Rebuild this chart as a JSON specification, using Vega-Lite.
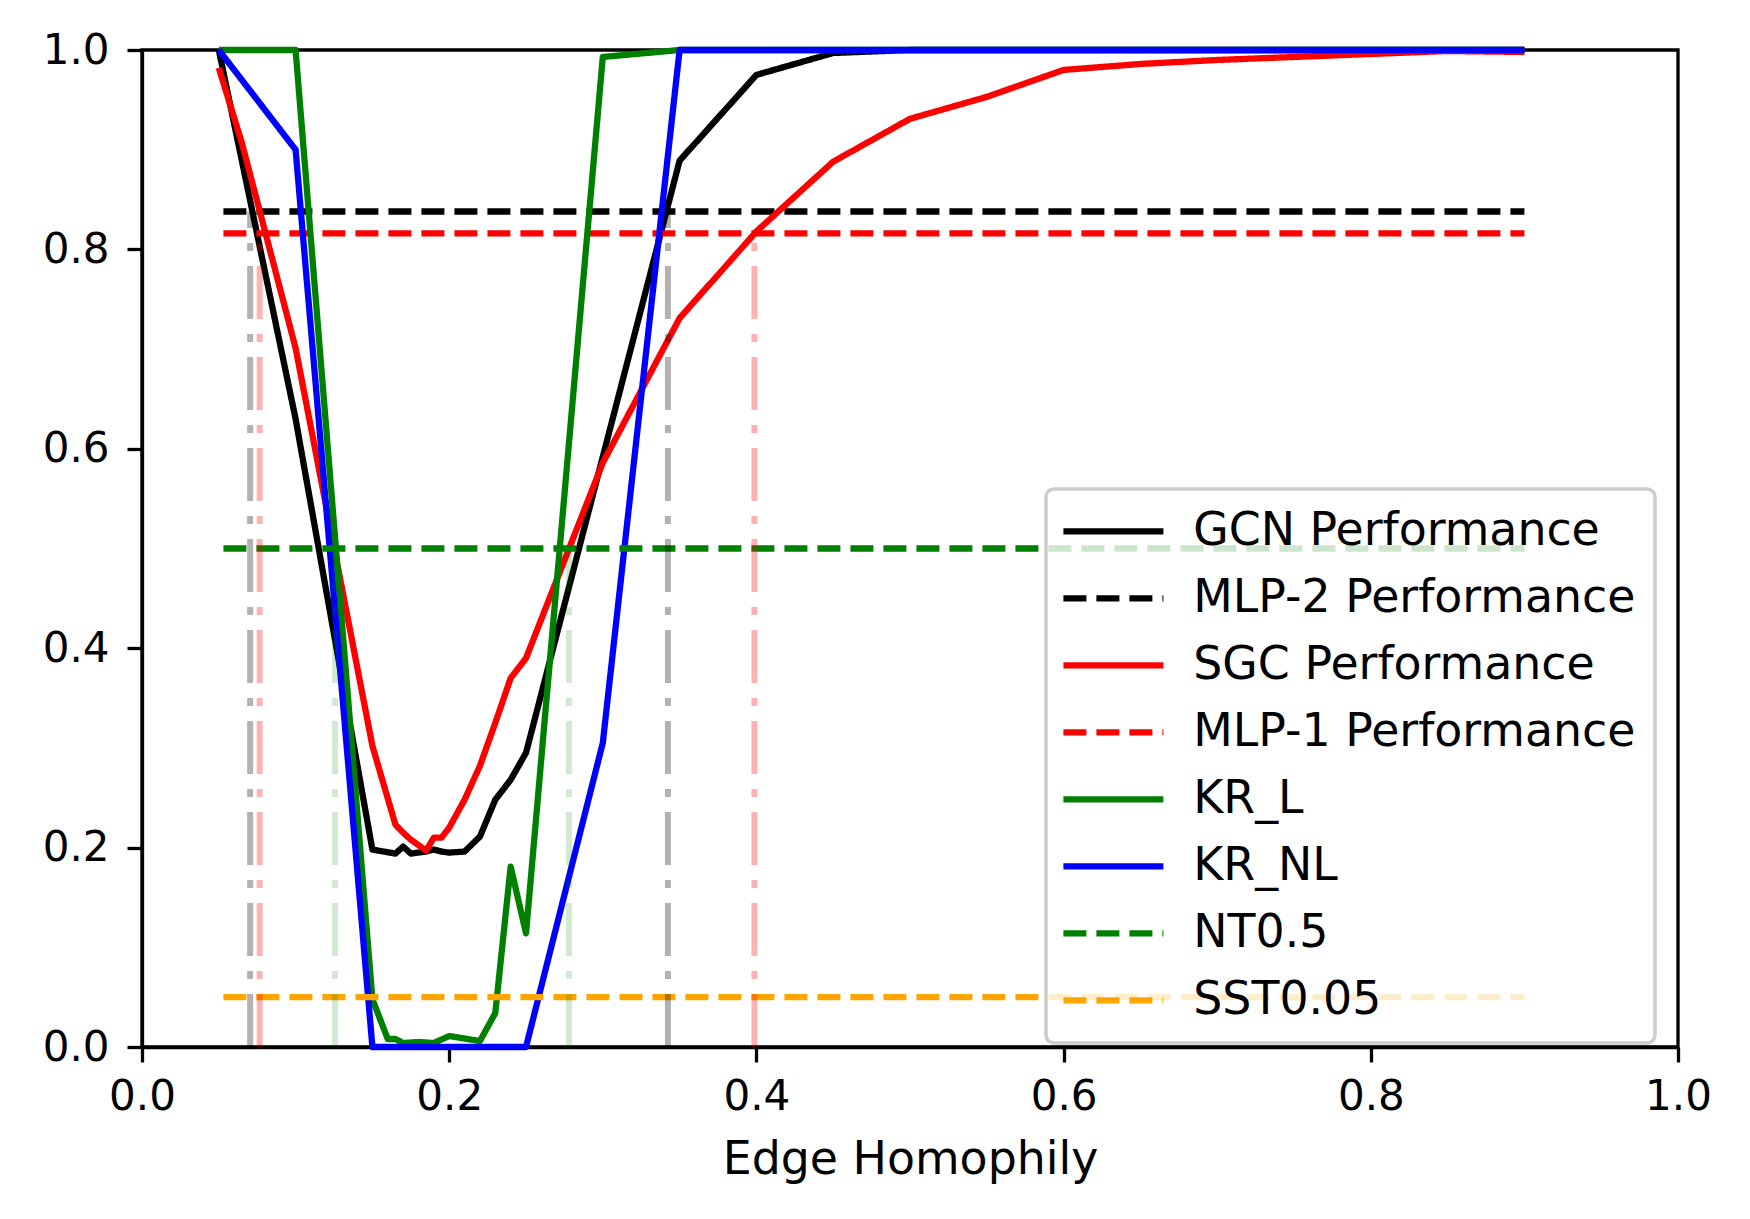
{
  "$schema": "https://vega.github.io/schema/vega-lite/v6.json",
  "width": 1536,
  "height": 997,
  "autosize": {"type": "none"},
  "padding": {"left": 142, "top": 50, "right": 72, "bottom": 172},
  "background": "white",
  "config": {
    "font": "DejaVu Sans",
    "view": {"stroke": "black", "strokeWidth": 3.3},
    "axis": {
      "grid": false,
      "domainColor": "black",
      "domainWidth": 3.3,
      "tickColor": "black",
      "tickWidth": 3.3,
      "tickSize": 15,
      "labelFont": "DejaVu Sans",
      "labelFontSize": 42,
      "labelColor": "black",
      "labelFlush": false,
      "titleFont": "DejaVu Sans",
      "titleFontSize": 45.8,
      "titleFontWeight": "normal",
      "titleColor": "black"
    },
    "legend": {"strokeWidth": 3.5}
  },
  "datasets": {
    "curves": [
      {"series": "GCN Performance", "homophily": 0.05, "score": 1.0},
      {"series": "GCN Performance", "homophily": 0.1, "score": 0.63},
      {"series": "GCN Performance", "homophily": 0.15, "score": 0.198},
      {"series": "GCN Performance", "homophily": 0.165, "score": 0.194},
      {"series": "GCN Performance", "homophily": 0.17, "score": 0.201},
      {"series": "GCN Performance", "homophily": 0.175, "score": 0.194},
      {"series": "GCN Performance", "homophily": 0.185, "score": 0.196},
      {"series": "GCN Performance", "homophily": 0.19, "score": 0.198},
      {"series": "GCN Performance", "homophily": 0.195, "score": 0.196},
      {"series": "GCN Performance", "homophily": 0.2, "score": 0.195},
      {"series": "GCN Performance", "homophily": 0.21, "score": 0.196},
      {"series": "GCN Performance", "homophily": 0.22, "score": 0.211},
      {"series": "GCN Performance", "homophily": 0.23, "score": 0.248},
      {"series": "GCN Performance", "homophily": 0.24, "score": 0.268},
      {"series": "GCN Performance", "homophily": 0.25, "score": 0.295},
      {"series": "GCN Performance", "homophily": 0.3, "score": 0.592},
      {"series": "GCN Performance", "homophily": 0.35, "score": 0.889},
      {"series": "GCN Performance", "homophily": 0.4, "score": 0.975},
      {"series": "GCN Performance", "homophily": 0.45, "score": 0.997},
      {"series": "GCN Performance", "homophily": 0.5, "score": 1.0},
      {"series": "GCN Performance", "homophily": 0.55, "score": 1.0},
      {"series": "GCN Performance", "homophily": 0.6, "score": 1.0},
      {"series": "GCN Performance", "homophily": 0.65, "score": 1.0},
      {"series": "GCN Performance", "homophily": 0.7, "score": 1.0},
      {"series": "GCN Performance", "homophily": 0.75, "score": 1.0},
      {"series": "GCN Performance", "homophily": 0.8, "score": 1.0},
      {"series": "GCN Performance", "homophily": 0.85, "score": 1.0},
      {"series": "GCN Performance", "homophily": 0.9, "score": 1.0},

      {"series": "MLP-2 Performance", "homophily": 0.053, "score": 0.838},
      {"series": "MLP-2 Performance", "homophily": 0.9, "score": 0.838},

      {"series": "SGC Performance", "homophily": 0.05, "score": 0.982},
      {"series": "SGC Performance", "homophily": 0.065, "score": 0.907},
      {"series": "SGC Performance", "homophily": 0.1, "score": 0.701},
      {"series": "SGC Performance", "homophily": 0.15, "score": 0.302},
      {"series": "SGC Performance", "homophily": 0.165, "score": 0.223},
      {"series": "SGC Performance", "homophily": 0.17, "score": 0.215},
      {"series": "SGC Performance", "homophily": 0.175, "score": 0.208},
      {"series": "SGC Performance", "homophily": 0.185, "score": 0.197},
      {"series": "SGC Performance", "homophily": 0.19, "score": 0.21},
      {"series": "SGC Performance", "homophily": 0.195, "score": 0.21},
      {"series": "SGC Performance", "homophily": 0.2, "score": 0.22},
      {"series": "SGC Performance", "homophily": 0.21, "score": 0.248},
      {"series": "SGC Performance", "homophily": 0.22, "score": 0.282},
      {"series": "SGC Performance", "homophily": 0.23, "score": 0.325},
      {"series": "SGC Performance", "homophily": 0.24, "score": 0.37},
      {"series": "SGC Performance", "homophily": 0.25, "score": 0.39},
      {"series": "SGC Performance", "homophily": 0.3, "score": 0.586},
      {"series": "SGC Performance", "homophily": 0.35, "score": 0.731},
      {"series": "SGC Performance", "homophily": 0.4, "score": 0.818},
      {"series": "SGC Performance", "homophily": 0.45, "score": 0.888},
      {"series": "SGC Performance", "homophily": 0.5, "score": 0.931},
      {"series": "SGC Performance", "homophily": 0.55, "score": 0.953},
      {"series": "SGC Performance", "homophily": 0.6, "score": 0.98},
      {"series": "SGC Performance", "homophily": 0.65, "score": 0.986},
      {"series": "SGC Performance", "homophily": 0.7, "score": 0.99},
      {"series": "SGC Performance", "homophily": 0.75, "score": 0.993},
      {"series": "SGC Performance", "homophily": 0.8, "score": 0.996},
      {"series": "SGC Performance", "homophily": 0.85, "score": 0.999},
      {"series": "SGC Performance", "homophily": 0.9, "score": 0.998},

      {"series": "MLP-1 Performance", "homophily": 0.053, "score": 0.816},
      {"series": "MLP-1 Performance", "homophily": 0.9, "score": 0.816},

      {"series": "KR_L", "homophily": 0.05, "score": 1.0},
      {"series": "KR_L", "homophily": 0.1, "score": 1.0},
      {"series": "KR_L", "homophily": 0.15, "score": 0.048},
      {"series": "KR_L", "homophily": 0.16, "score": 0.008},
      {"series": "KR_L", "homophily": 0.165, "score": 0.008},
      {"series": "KR_L", "homophily": 0.17, "score": 0.004},
      {"series": "KR_L", "homophily": 0.18, "score": 0.005},
      {"series": "KR_L", "homophily": 0.19, "score": 0.004},
      {"series": "KR_L", "homophily": 0.2, "score": 0.011},
      {"series": "KR_L", "homophily": 0.22, "score": 0.006},
      {"series": "KR_L", "homophily": 0.23, "score": 0.034},
      {"series": "KR_L", "homophily": 0.24, "score": 0.181},
      {"series": "KR_L", "homophily": 0.25, "score": 0.114},
      {"series": "KR_L", "homophily": 0.3, "score": 0.993},
      {"series": "KR_L", "homophily": 0.35, "score": 1.0},
      {"series": "KR_L", "homophily": 0.4, "score": 1.0},
      {"series": "KR_L", "homophily": 0.5, "score": 1.0},
      {"series": "KR_L", "homophily": 0.6, "score": 1.0},
      {"series": "KR_L", "homophily": 0.7, "score": 1.0},
      {"series": "KR_L", "homophily": 0.8, "score": 1.0},
      {"series": "KR_L", "homophily": 0.9, "score": 1.0},

      {"series": "KR_NL", "homophily": 0.05, "score": 1.0},
      {"series": "KR_NL", "homophily": 0.1, "score": 0.9},
      {"series": "KR_NL", "homophily": 0.15, "score": 0.0},
      {"series": "KR_NL", "homophily": 0.2, "score": 0.0},
      {"series": "KR_NL", "homophily": 0.25, "score": 0.0},
      {"series": "KR_NL", "homophily": 0.3, "score": 0.305},
      {"series": "KR_NL", "homophily": 0.35, "score": 1.0},
      {"series": "KR_NL", "homophily": 0.4, "score": 1.0},
      {"series": "KR_NL", "homophily": 0.5, "score": 1.0},
      {"series": "KR_NL", "homophily": 0.6, "score": 1.0},
      {"series": "KR_NL", "homophily": 0.7, "score": 1.0},
      {"series": "KR_NL", "homophily": 0.8, "score": 1.0},
      {"series": "KR_NL", "homophily": 0.9, "score": 1.0},

      {"series": "NT0.5", "homophily": 0.053, "score": 0.5},
      {"series": "NT0.5", "homophily": 0.9, "score": 0.5},

      {"series": "SST0.05", "homophily": 0.053, "score": 0.05},
      {"series": "SST0.05", "homophily": 0.9, "score": 0.05}
    ],
    "crossings": [
      {"series": "MLP-2 Performance", "homophily": 0.0704, "top": 0.838, "base": 0},
      {"series": "MLP-1 Performance", "homophily": 0.0766, "top": 0.816, "base": 0},
      {"series": "NT0.5", "homophily": 0.1257, "top": 0.5, "base": 0},
      {"series": "NT0.5", "homophily": 0.278, "top": 0.5, "base": 0},
      {"series": "MLP-2 Performance", "homophily": 0.3424, "top": 0.838, "base": 0},
      {"series": "MLP-1 Performance", "homophily": 0.3987, "top": 0.816, "base": 0}
    ]
  },
  "layer": [
    {
      "data": {"name": "curves"},
      "mark": {"type": "line", "strokeWidth": 6.3, "strokeJoin": "round"},
      "encoding": {
        "x": {
          "field": "homophily",
          "type": "quantitative",
          "title": "Edge Homophily",
          "scale": {"domain": [0, 1], "nice": false},
          "axis": {"values": [0, 0.2, 0.4, 0.6, 0.8, 1.0], "format": ".1f", "labelPadding": 14, "titlePadding": 20}
        },
        "y": {
          "field": "score",
          "type": "quantitative",
          "title": null,
          "scale": {"domain": [0, 1], "nice": false},
          "axis": {"values": [0, 0.2, 0.4, 0.6, 0.8, 1.0], "format": ".1f", "labelPadding": 18}
        },
        "color": {
          "field": "series",
          "type": "nominal",
          "scale": {
            "domain": ["GCN Performance", "MLP-2 Performance", "SGC Performance", "MLP-1 Performance", "KR_L", "KR_NL", "NT0.5", "SST0.05"],
            "range": ["black", "black", "red", "red", "green", "blue", "green", "orange"]
          },
          "legend": {
            "title": null,
            "orient": "none",
            "legendX": 904,
            "legendY": 439,
            "symbolType": "M-2,0H6",
            "symbolSize": 625,
            "symbolStrokeWidth": 6.3,
            "labelFontSize": 45.8,
            "labelFont": "DejaVu Sans",
            "labelColor": "black",
            "labelLimit": 800,
            "labelOffset": 82,
            "rowPadding": 20,
            "padding": 19.5,
            "fillColor": "rgba(255,255,255,0.8)",
            "strokeColor": "#cccccc",
            "cornerRadius": 8
          }
        },
        "strokeDash": {
          "field": "series",
          "type": "nominal",
          "scale": {
            "domain": ["GCN Performance", "MLP-2 Performance", "SGC Performance", "MLP-1 Performance", "KR_L", "KR_NL", "NT0.5", "SST0.05"],
            "range": [[1, 0], [23, 10], [1, 0], [23, 10], [1, 0], [1, 0], [23, 10], [23, 10]]
          }
        }
      }
    },
    {
      "data": {"name": "crossings"},
      "mark": {"type": "rule", "strokeWidth": 6, "strokeDash": [53, 15, 8, 15]},
      "encoding": {
        "x": {"field": "homophily", "type": "quantitative"},
        "y": {"field": "base", "type": "quantitative"},
        "y2": {"field": "top"},
        "stroke": {
          "field": "series",
          "type": "nominal",
          "scale": {
            "domain": ["MLP-2 Performance", "MLP-1 Performance", "NT0.5"],
            "range": ["rgba(0,0,0,0.3)", "rgba(255,0,0,0.3)", "rgba(0,128,0,0.18)"]
          },
          "legend": null
        }
      }
    }
  ]
}
